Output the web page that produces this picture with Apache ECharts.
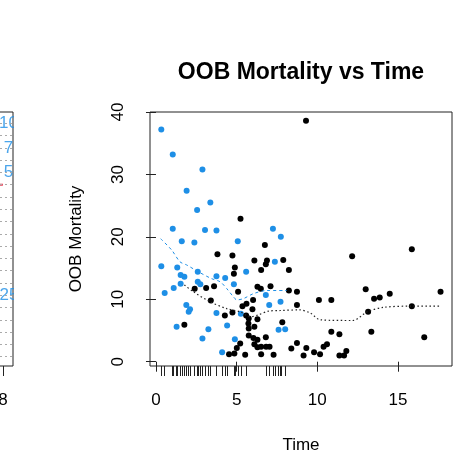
<!DOCTYPE html>
<html>
<head>
<meta charset="utf-8">
<script src="https://cdn.jsdelivr.net/npm/echarts@6/dist/echarts.min.js"></script>
<style>
  html, body { margin: 0; padding: 0; background: #ffffff; }
  #chart { width: 474px; height: 475px; }
</style>
</head>
<body>
<div id="chart"></div>
<script>
// Blue group: time and OOB mortality
const blueTime = [0.33, 1.04, 2.88, 1.9, 3.37, 2.55, 1.04, 3.04, 3.75, 7.25, 7.74, 1.6, 2.38, 5.07, 7.37,
  0.33, 1.32, 2.59, 5.59, 1.53, 1.76, 3.75, 4.29, 2.59, 2.75, 1.53, 4.83, 1.1, 0.54, 6.81,
  7.02, 7.72, 1.88, 2.11, 2.03, 3.75, 5.26, 1.28, 3.25, 4.41, 7.6, 8.01, 2.88, 4.89, 4.1];
const blueOOB = [37.2, 33.2, 30.8, 27.4, 25.5, 24.3, 21.3, 21.1, 21.0, 21.3, 20.0, 19.3, 19.1, 19.3, 16.0,
  15.3, 15.1, 14.4, 14.4, 13.9, 13.6, 13.7, 13.4, 12.8, 12.4, 12.5, 12.4, 11.8, 11.0, 10.7,
  9.1, 9.6, 9.1, 8.4, 8.0, 7.8, 7.7, 5.6, 5.2, 5.8, 5.1, 5.2, 3.7, 3.6, 1.5];

// Black group: time and OOB mortality
const blackTime = [5.24, 9.3, 6.75, 3.81, 4.74, 6.1, 6.88, 6.81, 7.89, 4.89, 4.83, 6.52, 8.24,
  2.4, 3.11, 3.6, 5.09, 6.29, 6.5, 7.1, 8.24, 8.74, 3.4, 6.02, 5.61, 5.36, 8.74, 5.98,
  4.27, 5.59, 4.74, 5.75, 5.73, 5.75, 6.29, 6.1, 7.83, 1.76, 5.75, 6.04, 6.29, 6.81,
  8.74, 9.32, 5.22, 5.01, 6.1, 6.29, 6.52, 6.83, 7.04, 8.39, 4.53, 4.86, 5.53, 6.52, 7.29, 9.15,
  12.16, 15.86, 13.0, 14.49, 13.52, 13.87, 17.64, 10.1, 10.87, 13.15, 15.86,
  10.87, 11.37, 13.35, 16.63, 10.39, 10.6, 9.8, 10.17, 11.37, 11.66, 11.8];
const blackOOB = [22.9, 38.6, 18.7, 17.2, 17.0, 16.2, 16.2, 15.6, 16.3, 15.1, 14.1, 14.7, 14.7,
  11.7, 11.8, 12.1, 11.2, 12.0, 11.7, 12.1, 11.4, 11.2, 9.8, 9.9, 9.3, 8.9, 9.1, 8.4,
  7.4, 7.4, 7.9, 6.9, 6.1, 5.3, 6.8, 5.6, 6.3, 5.9, 4.2, 3.8, 3.5, 3.9,
  3.0, 2.2, 2.9, 2.2, 2.8, 2.3, 2.4, 2.4, 2.4, 2.1, 1.2, 1.3, 1.1, 1.2, 1.1, 1.0,
  16.9, 18.0, 11.6, 10.9, 10.1, 10.3, 11.2, 9.9, 9.9, 8.0, 8.9,
  4.8, 4.4, 4.8, 3.9, 2.4, 2.8, 1.5, 1.2, 1.0, 1.0, 1.7];

// Smoothed trends
const blueFitTime = [0.29, 0.97, 1.49, 1.9, 2.63, 3.45, 3.98, 4.39, 4.8, 5.01, 5.42, 6.04, 6.87, 8.11];
const blueFitOOB  = [19.7, 17.9, 16.0, 15.5, 14.4, 13.3, 12.8, 11.7, 10.4, 9.9, 10.1, 10.9, 11.4, 11.4];
const blackFitTime = [1.76, 2.32, 3.35, 4.39, 5.22, 5.84, 6.35, 6.98, 7.7, 8.9, 9.56, 10.2, 12.2, 13.1, 14.1, 15.8, 17.64];
const blackFitOOB  = [12.3, 11.2, 9.6, 8.5, 8.0, 7.2, 7.5, 8.1, 8.2, 8.3, 7.8, 6.7, 6.6, 8.0, 8.7, 8.9, 8.9];

// Axis ticks
const xTicks = [0, 5, 10, 15];
const yTicks = [0, 10, 20, 30, 40];

// Neighbouring panel (only its right edge is in view)
const leftRows = [1, 2, 3, 4, 5, 6, 7, 8, 9, 10, 11, 12, 13, 14, 15, 16, 17, 18, 19, 20];
const leftLabelText = ['10', '7', '5', '25'];
const leftLabelRow = [20, 18, 16, 6];
const leftLabelX = [7.85, 8.04, 8.04, 7.87];
const leftRedX = [7.7, 8.0];
const leftRedRow = 15;
const leftTicks = [8];

const FONT = "'Liberation Sans', Arial, Helvetica, sans-serif";
const BLUE = '#1E8FE6';
const zip = (a, b) => a.map((v, i) => [v, b[i]]);

const chart = echarts.init(document.getElementById('chart'), null, { renderer: 'canvas' });

chart.setOption({
  animation: false,
  backgroundColor: '#ffffff',
  textStyle: { fontFamily: FONT },
  title: {
    text: 'OOB Mortality vs Time',
    left: 301, top: 61, textAlign: 'center', padding: 0,
    textStyle: { fontFamily: FONT, fontWeight: 'bold', fontSize: 23, color: '#000' }
  },
  grid: [
    { left: 150, top: 112, width: 302, height: 254, show: true, borderColor: '#222', borderWidth: 1,
      backgroundColor: 'transparent', outerBoundsMode: 'none', containLabel: false },
    { left: -200, top: 112, width: 213, height: 254, show: true, borderColor: '#222', borderWidth: 1,
      backgroundColor: 'transparent', outerBoundsMode: 'none', containLabel: false }
  ],
  xAxis: [
    {
      gridIndex: 0, type: 'value', min: -0.37, max: 18.35,
      name: 'Time', nameLocation: 'middle', nameGap: 71,
      nameTextStyle: { fontFamily: FONT, fontSize: 17, color: '#000' },
      axisLine: { show: false },
      axisTick: { show: true, length: 10, customValues: xTicks, lineStyle: { color: '#222' } },
      axisLabel: { customValues: xTicks, margin: 26, fontSize: 17, color: '#000', fontFamily: FONT },
      splitLine: { show: false }
    },
    {
      // rug of the blue group's times
      gridIndex: 0, type: 'value', min: -0.37, max: 18.35, position: 'bottom',
      axisLine: { show: false },
      axisTick: { show: true, length: 10, customValues: blueTime, lineStyle: { color: '#222' } },
      axisLabel: { show: false },
      splitLine: { show: false }
    },
    {
      gridIndex: 1, type: 'value', min: 0, max: 8.4,
      axisLine: { show: false },
      axisTick: { show: true, length: 10, customValues: leftTicks, lineStyle: { color: '#222' } },
      axisLabel: { customValues: leftTicks, margin: 26, fontSize: 17, color: '#000', fontFamily: FONT },
      splitLine: { show: false }
    }
  ],
  yAxis: [
    {
      gridIndex: 0, type: 'value', min: -0.69, max: 40.0,
      name: 'OOB Mortality', nameLocation: 'middle', nameGap: 65,
      nameTextStyle: { fontFamily: FONT, fontSize: 17, color: '#000' },
      axisLine: { show: false },
      axisTick: { show: true, length: 10, customValues: yTicks, lineStyle: { color: '#222' } },
      axisLabel: { customValues: yTicks, rotate: 90, margin: 23, fontSize: 17, color: '#000', fontFamily: FONT,
        showMinLabel: true, showMaxLabel: true },
      splitLine: { show: false }
    },
    {
      gridIndex: 1, type: 'value', min: 0.24, max: 20.92,
      axisLine: { show: false }, axisTick: { show: false }, axisLabel: { show: false },
      splitLine: { show: false }
    }
  ],
  graphic: [
    { type: 'rect', shape: { x: 14, y: 100, width: 44, height: 270 }, style: { fill: '#ffffff' }, z: 100, silent: true }
  ],
  series: [
    {
      type: 'scatter', xAxisIndex: 0, yAxisIndex: 0,
      data: zip(blueTime, blueOOB), symbolSize: 6,
      itemStyle: { color: BLUE, opacity: 1 }
    },
    {
      type: 'scatter', xAxisIndex: 0, yAxisIndex: 0,
      data: zip(blackTime, blackOOB), symbolSize: 6,
      itemStyle: { color: '#000', opacity: 1 }
    },
    {
      type: 'line', xAxisIndex: 0, yAxisIndex: 0,
      data: zip(blueFitTime, blueFitOOB), showSymbol: false, smooth: 0.3,
      lineStyle: { color: BLUE, width: 1, type: [3, 3] }
    },
    {
      type: 'line', xAxisIndex: 0, yAxisIndex: 0,
      data: zip(blackFitTime, blackFitOOB), showSymbol: false, smooth: 0.3,
      lineStyle: { color: '#222', width: 1.2, type: [1.5, 2.5] }
    },
    {
      type: 'scatter', xAxisIndex: 2, yAxisIndex: 1,
      data: leftLabelText.map((t, i) => ({ name: t, value: [leftLabelX[i], leftLabelRow[i]] })),
      symbolSize: 0,
      label: { show: true, position: 'right', distance: 0, formatter: '{b}', fontSize: 17, color: BLUE, fontFamily: FONT },
      markLine: {
        silent: true, symbol: 'none', animation: false,
        label: { show: false },
        lineStyle: { color: '#aaaaaa', width: 1, type: [2, 3] },
        data: leftRows.map(r => ({ yAxis: r }))
      }
    },
    {
      type: 'line', xAxisIndex: 2, yAxisIndex: 1,
      data: leftRedX.map(x => [x, leftRedRow]), showSymbol: false,
      lineStyle: { color: '#E8384F', width: 2 }
    }
  ]
});
</script>
</body>
</html>
